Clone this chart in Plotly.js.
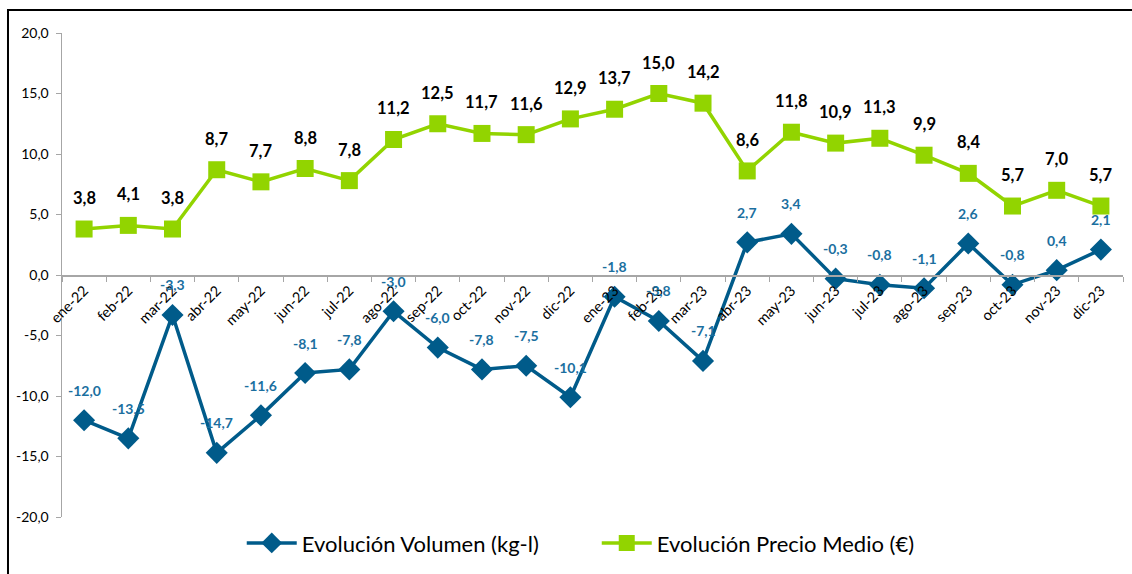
<!DOCTYPE html>
<html>
<head>
<meta charset="utf-8">
<script src="https://cdn.plot.ly/plotly-3.0.1.min.js"></script>
<style>
html,body{margin:0;padding:0;background:#fff;}
#chart{width:1132px;height:574px;}
</style>
</head>
<body>
<div id="chart"></div>
<script>
const categories = ["ene-22","feb-22","mar-22","abr-22","may-22","jun-22","jul-22","ago-22","sep-22","oct-22","nov-22","dic-22",
  "ene-23","feb-23","mar-23","abr-23","may-23","jun-23","jul-23","ago-23","sep-23","oct-23","nov-23","dic-23"];
const volumen = [-12.0,-13.5,-3.3,-14.7,-11.6,-8.1,-7.8,-3.0,-6.0,-7.8,-7.5,-10.1,
  -1.8,-3.8,-7.1,2.7,3.4,-0.3,-0.8,-1.1,2.6,-0.8,0.4,2.1];
const precio = [3.8,4.1,3.8,8.7,7.7,8.8,7.8,11.2,12.5,11.7,11.6,12.9,
  13.7,15.0,14.2,8.6,11.8,10.9,11.3,9.9,8.4,5.7,7.0,5.7];
const yTicks = [-20,-15,-10,-5,0,5,10,15,20];

const fmt = v => v.toFixed(1).replace('.', ',');
const FONT = "Lato, 'Open Sans', sans-serif";
const BLUE = '#005b8a', BLUE_LBL = '#1b6f9f', GREEN = '#92d400';

const traces = [
  {x: categories, y: volumen, type: 'scatter', mode: 'lines+markers', name: 'Evolución Volumen (kg-l)',
   line: {color: BLUE, width: 3.5}, marker: {symbol: 'diamond', size: 17, color: BLUE}},
  {x: categories, y: precio, type: 'scatter', mode: 'lines+markers', name: 'Evolución Precio Medio (€)',
   line: {color: GREEN, width: 3.5}, marker: {symbol: 'square', size: 17, color: GREEN}}
];

const annotations = [];
categories.forEach((c, i) => {
  annotations.push({x: c, y: precio[i], text: fmt(precio[i]), showarrow: false, yshift: 31,
    font: {family: FONT, size: 16.5, color: '#000', weight: 'bold'}});
  annotations.push({x: c, y: volumen[i], text: fmt(volumen[i]), showarrow: false, yshift: 30,
    font: {family: FONT, size: 14, color: BLUE_LBL, weight: 'bold'}});
});

const layout = {
  width: 1132, height: 574,
  margin: {l: 62, r: 9, t: 33, b: 57},
  paper_bgcolor: '#fff', plot_bgcolor: 'rgba(0,0,0,0)',
  separators: ',.',
  font: {family: FONT, size: 14, color: '#000'},
  showlegend: true,
  legend: {orientation: 'h', x: 0.504, xanchor: 'center', y: -0.054, yanchor: 'middle',
    font: {family: FONT, size: 22, color: '#000'}, traceorder: 'normal', itemwidth: 50,
    entrywidth: 290},
  xaxis: {type: 'category', range: [-0.5, 23.5], anchor: 'free', position: 0.5,
    showgrid: false, zeroline: false, showline: true, linecolor: '#a6a6a6', linewidth: 1.5,
    ticks: 'outside', tickson: 'boundaries', ticklen: 5, tickcolor: '#a6a6a6',
    tickangle: -45, tickfont: {family: FONT, size: 14.5, color: '#000'}},
  yaxis: {range: [-20, 20], tickvals: yTicks, ticktext: yTicks.map(fmt),
    showgrid: false, zeroline: false, showline: true, linecolor: '#a6a6a6', linewidth: 1.5,
    ticks: 'outside', ticklen: 5, tickcolor: '#a6a6a6', ticklabelstandoff: 4,
    tickfont: {family: FONT, size: 14, color: '#000'}},
  annotations: annotations,
  shapes: [{type: 'rect', xref: 'paper', yref: 'paper', x0: -0.0509, x1: 1.05, y0: -0.2, y1: 1.0475,
    line: {color: '#000', width: 2}, fillcolor: 'rgba(0,0,0,0)', layer: 'below'}]
};

Plotly.newPlot('chart', traces, layout, {displayModeBar: false, staticPlot: true});
</script>
</body>
</html>
